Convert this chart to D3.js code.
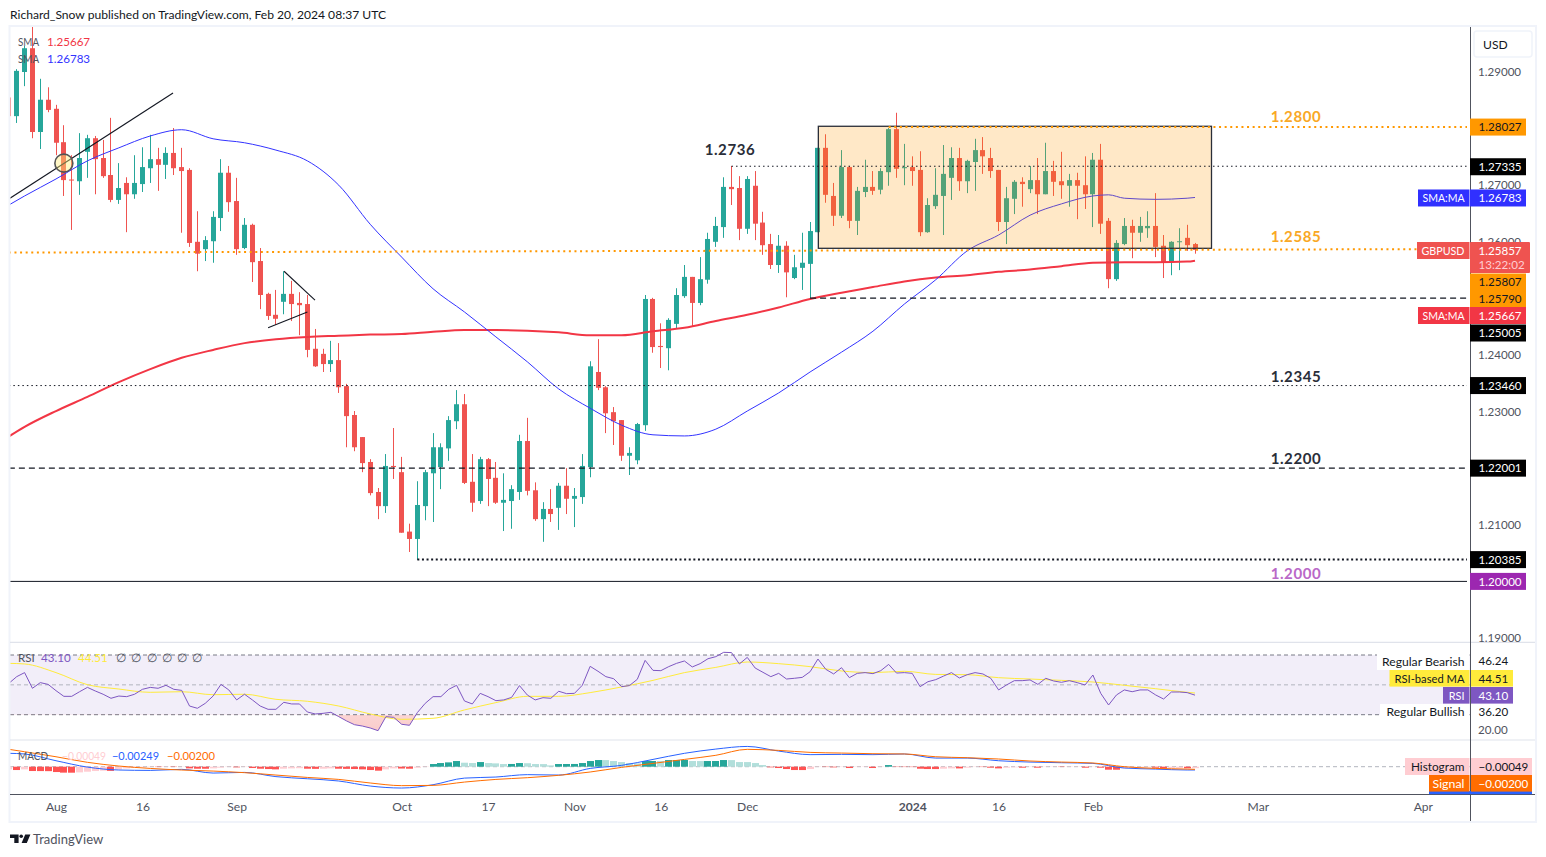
<!DOCTYPE html>
<html>
<head>
<meta charset="utf-8">
<title>GBPUSD</title>
<script src="https://cdn.jsdelivr.net/npm/d3@7"></script>
<style>
  body { margin: 0; background: #fff; }
  svg { display: block; }
  text { font-family: Lato, "Open Sans", sans-serif; font-size: 12.1px; }
</style>
</head>
<body>
<div class="visContainer"></div>
<script>
// First bar of the arrays below is number -6, bar 0 is 1 Aug 2023.
const firstBar = -6;

const opens = [
  1.2855,1.2822,1.2900,1.2942,1.2794,1.2851,1.2835,1.2776,1.2710,1.2707,
  1.2759,1.2783,1.2748,1.2718,1.2674,1.2704,1.2684,1.2702,1.2730,1.2746,
  1.2736,1.2757,1.2732,1.2727,1.2600,1.2587,1.2601,1.2642,1.2722,1.2672,
  1.2589,1.2630,1.2566,1.2508,1.2471,1.2494,1.2508,1.2492,1.2490,1.2411,
  1.2402,1.2384,1.2391,1.2345,1.2294,1.2255,1.2211,1.2158,1.2133,1.2204,
  1.2193,1.2088,1.2075,1.2133,1.2191,1.2202,1.2235,1.2283,1.2313,1.2176,
  1.2142,1.2216,1.2183,1.2139,1.2142,1.2158,1.2248,1.2161,1.2110,1.2128,
  1.2130,1.2169,1.2146,1.2149,1.2202,1.2370,1.2343,1.2299,1.2285,1.2222,
  1.2214,1.2276,1.2499,1.2416,1.2412,1.2455,1.2504,1.2538,1.2492,1.2533,
  1.2600,1.2626,1.2697,1.2695,1.2623,1.2699,1.2634,1.2596,1.2559,1.2593,
  1.2536,1.2554,1.2561,1.2617,1.2766,1.2681,1.2646,1.2732,1.2637,1.2688,
  1.2697,1.2692,1.2723,1.2799,1.2730,1.2732,1.2727,1.2617,1.2663,1.2681,
  1.2713,1.2748,1.2707,1.2741,1.2762,1.2748,1.2727,1.2635,1.2676,1.2706,
  1.2693,1.2709,1.2684,1.2725,1.2707,1.2699,1.2709,1.2700,1.2684,1.2745,
  1.2637,1.2534,1.2596,1.2628,1.2616,1.2624,1.2628,1.2593,1.2564,1.2600,
  1.2607,1.2596
];
const highs = [
  1.2858,1.2905,1.2946,1.2980,1.2888,1.2873,1.2842,1.2806,1.2753,1.2792,
  1.2789,1.2787,1.2780,1.2819,1.2739,1.2714,1.2753,1.2767,1.2789,1.2766,
  1.2767,1.2801,1.2766,1.2730,1.2654,1.2610,1.2654,1.2746,1.2734,1.2713,
  1.2642,1.2632,1.2589,1.2510,1.2515,1.2548,1.2531,1.2511,1.2506,1.2446,
  1.2411,1.2425,1.2421,1.2349,1.2301,1.2255,1.2216,1.2165,1.2225,1.2271,
  1.2220,1.2102,1.2177,1.2197,1.2262,1.2244,1.2292,1.2338,1.2331,1.2225,
  1.2220,1.2218,1.2211,1.2191,1.2170,1.2259,1.2289,1.2175,1.2140,1.2163,
  1.2174,1.2200,1.2165,1.2225,1.2389,1.2428,1.2345,1.2308,1.2285,1.2237,
  1.2280,1.2506,1.2501,1.2456,1.2465,1.2518,1.2559,1.2538,1.2573,1.2616,
  1.2644,1.2714,1.2734,1.2716,1.2716,1.2725,1.2653,1.2614,1.2612,1.2601,
  1.2577,1.2616,1.2635,1.2766,1.2790,1.2704,1.2762,1.2734,1.2697,1.2745,
  1.2725,1.2730,1.2801,1.2828,1.2773,1.2751,1.2760,1.2677,1.2730,1.2771,
  1.2767,1.2766,1.2745,1.2782,1.2785,1.2766,1.2727,1.2697,1.2709,1.2714,
  1.2734,1.2748,1.2775,1.2743,1.2759,1.2720,1.2722,1.2751,1.2757,1.2773,
  1.2642,1.2603,1.2642,1.2639,1.2644,1.2654,1.2686,1.2612,1.2601,1.2624,
  1.2630,1.2598
];
const lows = [
  1.2815,1.2810,1.2875,1.2783,1.2764,1.2829,1.2753,1.2681,1.2621,1.2683,
  1.2713,1.2684,1.2713,1.2670,1.2667,1.2617,1.2676,1.2688,1.2704,1.2690,
  1.2711,1.2718,1.2616,1.2591,1.2548,1.2566,1.2563,1.2619,1.2653,1.2577,
  1.2587,1.2529,1.2481,1.2462,1.2453,1.2472,1.2460,1.2435,1.2396,1.2379,
  1.2370,1.2370,1.2333,1.2237,1.2230,1.2193,1.2152,1.2110,1.2121,1.2181,
  1.2086,1.2052,1.2038,1.2108,1.2105,1.2163,1.2213,1.2269,1.2172,1.2123,
  1.2137,1.2133,1.2137,1.2089,1.2093,1.2144,1.2152,1.2107,1.2070,1.2105,
  1.2091,1.2119,1.2096,1.2137,1.2184,1.2338,1.2262,1.2241,1.2213,1.2188,
  1.2207,1.2266,1.2404,1.2377,1.2373,1.2446,1.2501,1.2451,1.2488,1.2526,
  1.2591,1.2607,1.2665,1.2603,1.2614,1.2603,1.2577,1.2552,1.2545,1.2502,
  1.2534,1.2515,1.2499,1.2617,1.2669,1.2628,1.2642,1.2624,1.2612,1.2679,
  1.2683,1.2684,1.2699,1.2713,1.2700,1.2699,1.2610,1.2616,1.2658,1.2612,
  1.2674,1.2690,1.2686,1.2690,1.2720,1.2713,1.2619,1.2596,1.2649,1.2662,
  1.2686,1.2649,1.2684,1.2681,1.2676,1.2662,1.2640,1.2658,1.2626,1.2614,
  1.2518,1.2531,1.2594,1.2571,1.2600,1.2607,1.2573,1.2536,1.2541,1.2550,
  1.2584,1.2579
];
const closes = [
  1.2822,1.2902,1.2942,1.2794,1.2851,1.2833,1.2775,1.2709,1.2709,1.2748,
  1.2783,1.2746,1.2716,1.2674,1.2695,1.2684,1.2704,1.2732,1.2746,1.2736,
  1.2757,1.2730,1.2725,1.2598,1.2579,1.2603,1.2644,1.2722,1.2670,1.2587,
  1.2630,1.2564,1.2506,1.2469,1.2464,1.2508,1.2490,1.2488,1.2409,1.2380,
  1.2384,1.2391,1.2343,1.2292,1.2237,1.2209,1.2156,1.2133,1.2204,1.2202,
  1.2086,1.2075,1.2135,1.2193,1.2237,1.2237,1.2285,1.2313,1.2174,1.2139,
  1.2216,1.2181,1.2139,1.2144,1.2163,1.2248,1.2160,1.2110,1.2128,1.2119,
  1.2169,1.2146,1.2151,1.2204,1.2380,1.2342,1.2297,1.2283,1.2222,1.2227,
  1.2278,1.2499,1.2414,1.2414,1.2462,1.2506,1.2538,1.2492,1.2534,1.2605,
  1.2628,1.2697,1.2693,1.2623,1.2711,1.2632,1.2594,1.2559,1.2593,1.2546,
  1.2555,1.2563,1.2619,1.2766,1.2683,1.2646,1.2732,1.2637,1.2690,1.2697,
  1.2690,1.2725,1.2799,1.2729,1.2732,1.2725,1.2617,1.2665,1.2683,1.2720,
  1.2748,1.2707,1.2743,1.2762,1.2751,1.2725,1.2635,1.2677,1.2706,1.2702,
  1.2709,1.2684,1.2725,1.2706,1.2700,1.2709,1.2699,1.2684,1.2745,1.2632,
  1.2534,1.2598,1.2628,1.2616,1.2628,1.2628,1.2591,1.2564,1.2600,1.2601,
  1.2594,1.25857
];

// Moving averages, read every few bars.
const smaSlowBars = [-6,-4,0,4,8,12,16,20,24,28,32,36,40,44,48,52,56,60,64,68,72,76,80,84,88,92,96,100,104,108,112,116,120,124,128,132,136,140,144,145];
const smaSlow = [
  1.2256,1.2273,1.2301,1.2326,1.2352,1.2375,1.2395,1.2409,1.2421,1.2428,
  1.2432,1.2434,1.2436,1.2437,1.2441,1.2444,1.2444,1.2443,1.2440,1.2435,
  1.2435,1.2442,1.2448,1.2460,1.2471,1.2484,1.2499,1.2510,1.2520,1.2530,
  1.2537,1.2541,1.2547,1.2551,1.2557,1.2563,1.2564,1.2564,1.2565,1.25667
];
const smaFastBars = [-6,-4,0,4,8,12,16,20,24,28,32,36,40,44,48,52,56,60,64,68,72,76,80,84,88,92,96,100,104,108,112,116,120,124,128,132,134,136,140,144,145];
const smaFast = [
  1.2665,1.2681,1.2711,1.2743,1.2766,1.2787,1.2798,1.2782,1.2775,1.2762,
  1.2743,1.2700,1.2631,1.2573,1.2517,1.2476,1.2432,1.2388,1.2340,1.2306,
  1.2276,1.2259,1.2257,1.2269,1.2301,1.2333,1.2370,1.2405,1.2442,1.2490,
  1.2533,1.2584,1.2612,1.2647,1.2667,1.2681,1.2683,1.2677,1.2675,1.2677,1.26783
];

const rsi = [
  51.0,55.5,58.2,47.7,51.5,50.3,46.1,42.3,42.3,45.4,
  48.3,45.9,43.7,41.0,42.5,42.1,43.7,47.0,48.3,47.7,
  49.7,47.0,46.3,35.8,34.3,37.6,42.5,50.3,46.6,39.9,
  43.7,39.9,35.8,33.6,33.6,38.3,37.2,37.2,31.8,30.5,
  30.9,31.6,28.7,25.8,23.3,22.4,21.1,19.3,28.7,28.2,
  23.6,22.9,31.4,37.6,42.1,42.1,47.0,49.7,39.2,37.2,
  44.3,42.1,39.4,39.9,41.6,49.5,43.2,39.9,41.4,41.0,
  45.7,44.1,44.3,49.7,62.4,59.1,55.5,54.1,48.8,49.5,
  53.7,66.4,59.7,59.5,62.2,64.4,66.0,62.0,64.2,67.5,
  68.9,71.8,71.6,64.0,68.4,61.3,58.4,55.5,57.7,53.9,
  54.4,55.0,58.8,67.3,60.4,57.3,61.5,54.8,57.7,58.2,
  57.5,59.5,63.7,57.9,58.2,57.7,48.8,52.1,53.5,55.9,
  58.2,54.6,56.8,58.2,57.3,54.4,46.6,49.9,52.8,52.8,
  53.3,50.3,54.4,52.6,51.7,52.8,51.5,49.9,56.6,44.3,
  36.5,43.2,46.6,45.4,46.6,46.6,43.2,40.5,45.2,45.2,
  44.8,43.1
];
const rsiMaBars = [-6,-4,0,4,8,12,16,20,24,28,32,36,40,44,48,52,56,60,64,68,72,76,80,84,88,92,96,100,104,108,112,116,120,124,128,132,136,140,144,145];
const rsiMa = [
  64.4,64.0,58.2,50.1,47.2,45.0,45.4,43.4,43.7,40.3,
  39.0,35.8,30.5,26.9,27.6,33.2,38.1,42.3,42.3,44.8,
  48.6,53.0,58.2,61.7,65.3,64.2,62.2,59.3,58.2,59.1,
  57.0,56.8,54.8,53.9,53.0,51.9,49.7,47.4,45.0,44.51
];

const macdBars = [-6,-4,0,4,8,12,16,20,24,28,32,36,40,44,48,52,56,60,64,68,72,76,80,84,88,92,96,100,104,108,112,116,120,124,128,132,136,140,144,145];
const macd = [
  0.0101,0.0096,0.0045,-0.0003,-0.0025,-0.0028,-0.0020,-0.0048,-0.0043,-0.0075,
  -0.0091,-0.0108,-0.0146,-0.0161,-0.0136,-0.0086,-0.0078,-0.0060,-0.0063,-0.0013,
  0.0010,0.0055,0.0101,0.0133,0.0153,0.0118,0.0091,0.0093,0.0091,0.0096,
  0.0065,0.0065,0.0045,0.0035,0.0030,0.0025,-0.0010,-0.0018,-0.0025,-0.00249
];
const signal = [
  0.0131,0.0113,0.0075,0.0033,0.0005,-0.0013,-0.0025,-0.0033,-0.0045,-0.0063,
  -0.0081,-0.0096,-0.0123,-0.0143,-0.0141,-0.0116,-0.0096,-0.0083,-0.0065,-0.0040,
  -0.0005,0.0025,0.0055,0.0086,0.0131,0.0123,0.0108,0.0103,0.0098,0.0096,
  0.0075,0.0068,0.0058,0.0043,0.0035,0.0028,0.0000,-0.0013,-0.0018,-0.0020
];
const histogram = [
  -0.00089,-0.00111,-0.00089,-0.00144,-0.00146,-0.00148,-0.00178,-0.00198,-0.00200,-0.00189,
  -0.00167,-0.00144,-0.00133,-0.00139,-0.00089,-0.00056,-0.00033,-0.00022,-0.00011,-0.00012,
  -0.00010,-0.00011,-0.00008,-0.00056,-0.00067,-0.00068,-0.00056,-0.00033,-0.00011,-0.00022,
  -0.00011,-0.00044,-0.00067,-0.00078,-0.00089,-0.00067,-0.00056,-0.00050,-0.00067,-0.00072,
  -0.00067,-0.00056,-0.00067,-0.00072,-0.00078,-0.00089,-0.00111,-0.00133,-0.00089,-0.00056,
  -0.00061,-0.00067,-0.00033,-0.00011,0.00089,0.00122,0.00144,0.00189,0.00133,0.00122,
  0.00155,0.00122,0.00111,0.00089,0.00091,0.00122,0.00116,0.00089,0.00087,0.00044,
  0.00089,0.00090,0.00091,0.00122,0.00189,0.00222,0.00220,0.00189,0.00155,0.00122,
  0.00111,0.00189,0.00190,0.00189,0.00222,0.00223,0.00224,0.00189,0.00188,0.00189,
  0.00190,0.00222,0.00220,0.00155,0.00154,0.00122,0.00055,-0.00022,-0.00044,-0.00078,
  -0.00111,-0.00112,-0.00078,-0.00011,-0.00012,-0.00022,-0.00011,-0.00044,-0.00011,-0.00010,
  -0.00044,-0.00011,0.00055,-0.00011,-0.00012,-0.00013,-0.00067,-0.00078,-0.00079,-0.00067,
  -0.00056,-0.00057,-0.00033,-0.00011,-0.00012,-0.00033,-0.00056,-0.00033,-0.00022,-0.00033,
  -0.00011,-0.00033,-0.00011,-0.00010,-0.00011,-0.00010,-0.00009,-0.00033,-0.00011,-0.00033,
  -0.00100,-0.00101,-0.00056,-0.00044,-0.00033,-0.00022,-0.00033,-0.00056,-0.00052,-0.00050,
  -0.00051,-0.00049
];

// Time axis labels.
const timeBars = [0,11,23,44,55,66,77,88,109,120,132,153,174];
const timeLabels = ['Aug','16','Sep','Oct','17','Nov','16','Dec','2024','16','Feb','Mar','Apr'];

// The other round prices are hidden behind the value tags.
const priceTicks = [1.19,1.21,1.23,1.24,1.26,1.27,1.29];

// Horizontal levels drawn on the chart.
const levelPrices = [1.28027,1.27335,1.25005,1.2346,1.22001,1.20385,1.2];
const levelFromBars = [106,86,96,-6,-6,46,-6];

// Chart geometry.
const width = 1546;
const height = 857;
const paneLeft = 10;
const paneRight = 1470;
const numberSize = '11.6px';

const svg = d3.select('.visContainer')
              .append('svg')
              .attr('width', width)
              .attr('height', height);

// Scales. Bars are indexed by trading day, the scale runs past the last bar.
const xScale = d3.scaleLinear().domain([0, 174]).range([56, 1422.8]);
const yScale = d3.scaleLinear().domain([1.19, 1.29]).range([638, 72]);
const rsiScale = d3.scaleLinear().domain([30, 70]).range([714.7, 655]);
const macdScale = d3.scaleLinear().domain([-0.02, 0.02]).range([793.2, 740.2]);
const histScale = d3.scaleLinear().domain([-0.002, 0.002]).range([772.7, 760.7]);

const bars = opens.map((o, i) => ({
    bar: firstBar + i,
    open: o,
    high: highs[i],
    low: lows[i],
    close: closes[i],
    rsi: rsi[i],
    hist: histogram[i]
}));

const defs = svg.append('defs');
defs.append('clipPath').attr('id', 'priceClip').append('rect')
    .attr('x', paneLeft).attr('y', 27).attr('width', paneRight - paneLeft).attr('height', 615);
defs.append('clipPath').attr('id', 'indClip').append('rect')
    .attr('x', paneLeft).attr('y', 643).attr('width', paneRight - paneLeft).attr('height', 151);
defs.append('clipPath').attr('id', 'oversoldClip').append('rect')
    .attr('x', paneLeft).attr('y', rsiScale(30)).attr('width', paneRight - paneLeft).attr('height', 26);

const oversoldFill = defs.append('linearGradient').attr('id', 'oversoldFill')
    .attr('x1', 0).attr('x2', 0).attr('y1', 0).attr('y2', 1);
oversoldFill.append('stop').attr('offset', '0%').attr('stop-color', '#ef5350').attr('stop-opacity', 0.02);
oversoldFill.append('stop').attr('offset', '100%').attr('stop-color', '#ef5350').attr('stop-opacity', 0.3);

// Published-by line.
svg.append('text')
   .attr('x', 10)
   .attr('y', 19)
   .attr('fill', '#131722')
   .text('Richard_Snow published on TradingView.com, Feb 20, 2024 08:37 UTC');

// Candles.
const pricePane = svg.append('g').attr('clip-path', 'url(#priceClip)');
const candleColor = (d) => d.close >= d.open ? '#26a69a' : '#ef5350';
const barX = (b) => Math.floor(xScale(b));

pricePane.selectAll('.wick')
   .data(bars)
   .enter()
   .append('rect')
   .attr('class', 'wick')
   .attr('x', (d) => barX(d.bar))
   .attr('y', (d) => yScale(d.high))
   .attr('width', 1)
   .attr('height', (d) => yScale(d.low) - yScale(d.high))
   .attr('fill', candleColor);

pricePane.selectAll('.body')
   .data(bars)
   .enter()
   .append('rect')
   .attr('class', 'body')
   .attr('x', (d) => barX(d.bar) - 2)
   .attr('y', (d) => yScale(Math.max(d.open, d.close)))
   .attr('width', 5)
   .attr('height', (d) => Math.max(1, Math.abs(yScale(d.open) - yScale(d.close))))
   .attr('fill', candleColor);

// Moving averages.
const smaLine = d3.line()
                  .x((d) => xScale(d[0]))
                  .y((d) => yScale(d[1]))
                  .curve(d3.curveMonotoneX);

pricePane.append('path')
   .attr('d', smaLine(d3.zip(smaSlowBars, smaSlow)))
   .attr('fill', 'none')
   .attr('stroke', '#f23645')
   .attr('stroke-width', 2);

pricePane.append('path')
   .attr('d', smaLine(d3.zip(smaFastBars, smaFast)))
   .attr('fill', 'none')
   .attr('stroke', '#3333ff')
   .attr('stroke-width', 1);

// Range box, sits over the candles so they show through.
pricePane.append('rect')
   .attr('x', xScale(97.05))
   .attr('y', yScale(1.28041))
   .attr('width', xScale(147.1) - xScale(97.05))
   .attr('height', yScale(1.25885) - yScale(1.28041))
   .attr('fill', 'rgba(255,152,0,0.22)')
   .attr('stroke', '#2a2e39')
   .attr('stroke-width', 1.3);

// Levels.
const levelStyles = [
    { color: '#ff9800', w: 2, dash: '2 3.6' },
    { color: '#131722', w: 1, dash: '1.5 3' },
    { color: '#131722', w: 1.3, dash: '6 4' },
    { color: '#131722', w: 1, dash: '1.5 3' },
    { color: '#131722', w: 1.3, dash: '6 4' },
    { color: '#131722', w: 2, dash: '2 2.6' },
    { color: '#131722', w: 1, dash: null }
];
levelPrices.forEach((p, i) => {
    pricePane.append('line')
       .attr('x1', xScale(levelFromBars[i]))
       .attr('x2', paneRight - 3)
       .attr('y1', yScale(p))
       .attr('y2', yScale(p))
       .attr('stroke', levelStyles[i].color)
       .attr('stroke-width', levelStyles[i].w)
       .attr('stroke-dasharray', levelStyles[i].dash);
});

// Slightly rising 1.2585 line.
pricePane.append('line')
   .attr('x1', xScale(-6))
   .attr('x2', xScale(173.3))
   .attr('y1', yScale(1.2581))
   .attr('y2', yScale(1.2587))
   .attr('stroke', '#ff9800')
   .attr('stroke-width', 2)
   .attr('stroke-dasharray', '2 3.6');

// Hand drawn trend lines and the circle.
const trendLines = [
    [-5.86, 1.2677, 14.9, 1.2863],
    [29.03, 1.2548, 32.97, 1.2497],
    [27, 1.2448, 32, 1.2476]
];
trendLines.forEach((t) => {
    pricePane.append('line')
       .attr('x1', xScale(t[0]))
       .attr('y1', yScale(t[1]))
       .attr('x2', xScale(t[2]))
       .attr('y2', yScale(t[3]))
       .attr('stroke', '#131722')
       .attr('stroke-width', 1.1);
});
pricePane.append('circle')
   .attr('cx', xScale(1))
   .attr('cy', yScale(1.2739))
   .attr('r', 9)
   .attr('fill', 'rgba(255,235,120,0.42)')
   .attr('stroke', '#555')
   .attr('stroke-width', 1.6);

// Level captions.
const captions = [
    ['1.2800', 1296, 122, '#f9a825'],
    ['1.2585', 1296, 242, '#f9a825'],
    ['1.2345', 1296, 382, '#2a2e39'],
    ['1.2200', 1296, 464, '#2a2e39'],
    ['1.2000', 1296, 579, '#ba68c8'],
    ['1.2736', 730, 155, '#2a2e39']
];
captions.forEach((c) => {
    svg.append('text')
       .attr('x', c[1])
       .attr('y', c[2])
       .attr('text-anchor', 'middle')
       .attr('fill', c[3])
       .attr('font-weight', 700)
       .style('font-size', '15px')
       .style('letter-spacing', '0.6px')
       .text(c[0]);
});

// RSI pane.
const indPane = svg.append('g').attr('clip-path', 'url(#indClip)');
indPane.append('rect')
   .attr('x', paneLeft)
   .attr('y', rsiScale(70))
   .attr('width', paneRight - paneLeft)
   .attr('height', rsiScale(30) - rsiScale(70))
   .attr('fill', 'rgba(126,87,194,0.1)');

[[70, '#787b86'], [50, '#b2b5be'], [30, '#787b86']].forEach((l) => {
    indPane.append('line')
       .attr('x1', paneLeft)
       .attr('x2', paneRight)
       .attr('y1', rsiScale(l[0]))
       .attr('y2', rsiScale(l[0]))
       .attr('stroke', l[1])
       .attr('stroke-dasharray', '4 3');
});

const rsiArea = d3.area()
                  .x((d) => xScale(d.bar))
                  .y0(rsiScale(30))
                  .y1((d) => rsiScale(d.rsi));
indPane.append('g')
   .attr('clip-path', 'url(#oversoldClip)')
   .append('path')
   .attr('d', rsiArea(bars))
   .attr('fill', 'url(#oversoldFill)');

const rsiLine = d3.line().x((d) => xScale(d.bar)).y((d) => rsiScale(d.rsi));
const rsiMaLine = d3.line().x((d) => xScale(d[0])).y((d) => rsiScale(d[1])).curve(d3.curveMonotoneX);

indPane.append('path')
   .attr('d', rsiMaLine(d3.zip(rsiMaBars, rsiMa)))
   .attr('fill', 'none')
   .attr('stroke', '#ffeb3b')
   .attr('stroke-width', 1);
indPane.append('path')
   .attr('d', rsiLine(bars))
   .attr('fill', 'none')
   .attr('stroke', '#7e57c2')
   .attr('stroke-width', 1);

// MACD pane.
indPane.append('line')
   .attr('x1', paneLeft)
   .attr('x2', paneRight)
   .attr('y1', macdScale(0))
   .attr('y2', macdScale(0))
   .attr('stroke', '#b2b5be')
   .attr('stroke-dasharray', '4 3');

const histColor = (d, i) => {
    const prev = i > 0 ? bars[i - 1].hist : d.hist;
    if (d.hist >= 0) {
        return d.hist >= prev ? '#26a69a' : '#b2dfdb';
    }
    return d.hist >= prev ? '#ffcdd2' : '#ff5252';
};

indPane.selectAll('.hist')
   .data(bars)
   .enter()
   .append('rect')
   .attr('class', 'hist')
   .attr('x', (d) => barX(d.bar) - 3)
   .attr('y', (d) => Math.min(histScale(d.hist), histScale(0)))
   .attr('width', 7)
   .attr('height', (d) => Math.abs(histScale(d.hist) - histScale(0)))
   .attr('fill', histColor);

const macdLine = d3.line().x((d) => xScale(d[0])).y((d) => macdScale(d[1])).curve(d3.curveMonotoneX);
indPane.append('path')
   .attr('d', macdLine(d3.zip(macdBars, macd)))
   .attr('fill', 'none')
   .attr('stroke', '#2962ff')
   .attr('stroke-width', 1);
indPane.append('path')
   .attr('d', macdLine(d3.zip(macdBars, signal)))
   .attr('fill', 'none')
   .attr('stroke', '#ff6d00')
   .attr('stroke-width', 1);

// Legends in the pane corners.
const legend = (y, items) => {
    items.forEach((it) => {
        const t = svg.append('text')
           .attr('x', it[0])
           .attr('y', y)
           .attr('fill', it[2])
           .style('font-size', numberSize)
           .text(it[1]);
        if (it[3]) {
            t.attr('textLength', it[3]).attr('lengthAdjust', 'spacingAndGlyphs');
        }
    });
};
legend(45.5, [[18, 'SMA', '#50535e', 21], [47, '1.25667', '#f23645']]);
legend(63, [[18, 'SMA', '#50535e', 21], [47, '1.26783', '#3333ff']]);
legend(662, [[18, 'RSI', '#50535e'], [41, '43.10', '#7e57c2'], [78, '44.51', '#ffeb3b'],
             [116, '∅', '#50535e'], [131, '∅', '#50535e'], [147, '∅', '#50535e'],
             [162, '∅', '#50535e'], [177, '∅', '#50535e'], [192, '∅', '#50535e']]);
legend(760, [[18, 'MACD', '#50535e', 30], [62, '−0.00049', '#ffcdd2', 44], [112, '−0.00249', '#2962ff', 47], [167, '−0.00200', '#ff6d00', 48]]);

// Frame and separators.
svg.append('rect')
   .attr('x', 9.5)
   .attr('y', 26)
   .attr('width', 1526.5)
   .attr('height', 796)
   .attr('fill', 'none')
   .attr('stroke', '#f0f3fa')
   .attr('stroke-width', 2);
[642.3, 740].forEach((y) => {
    svg.append('line')
       .attr('x1', 10).attr('x2', 1535)
       .attr('y1', y).attr('y2', y)
       .attr('stroke', '#e0e3eb')
       .attr('stroke-width', 1.2);
});
svg.append('line')
   .attr('x1', 10).attr('x2', 1535)
   .attr('y1', 794.5).attr('y2', 794.5)
   .attr('stroke', '#50535e');
svg.append('line')
   .attr('x1', 1470.5).attr('x2', 1470.5)
   .attr('y1', 27).attr('y2', 821)
   .attr('stroke', '#50535e');

// Time axis.
const timeAxis = d3.axisBottom(xScale)
                   .tickValues(timeBars)
                   .tickSize(0)
                   .tickPadding(7)
                   .tickFormat((d, i) => timeLabels[i]);
const timeG = svg.append('g')
   .attr('transform', 'translate(0,795)')
   .call(timeAxis);
timeG.select('.domain').remove();
timeG.selectAll('text')
   .attr('fill', '#50535e')
   .style('font-size', '12.1px')
   .style('font-family', 'Lato')
   .attr('font-weight', (d) => d === 109 ? 700 : 400);

// Price axis.
const priceAxis = d3.axisRight(yScale)
                    .tickValues(priceTicks)
                    .tickSize(0)
                    .tickPadding(7)
                    .tickFormat(d3.format('.5f'));
const priceG = svg.append('g')
   .attr('transform', 'translate(1471,0)')
   .call(priceAxis);
priceG.select('.domain').remove();
priceG.selectAll('text')
   .attr('fill', '#50535e')
   .style('font-size', numberSize)
   .style('font-family', 'Lato');

const rsiG = svg.append('g')
   .attr('transform', 'translate(1471,0)')
   .call(d3.axisRight(rsiScale).tickValues([20]).tickSize(0).tickPadding(7).tickFormat(d3.format('.2f')));
rsiG.select('.domain').remove();
rsiG.selectAll('text')
   .attr('fill', '#50535e')
   .style('font-size', numberSize)
   .style('font-family', 'Lato');

// USD unit box.
svg.append('rect')
   .attr('x', 1474).attr('y', 31).attr('width', 58).attr('height', 26).attr('rx', 3)
   .attr('fill', '#fff').attr('stroke', '#f0f3fa').attr('stroke-width', 1.5);
svg.append('text').attr('x', 1483).attr('y', 49).attr('fill', '#131722').text('USD');

// Value tags on the axis. Some sit away from their value so they do not overlap.
const valueTag = (x, w, y, h, bg, fg, label) => {
    svg.append('rect')
       .attr('x', x).attr('y', y).attr('width', w).attr('height', h)
       .attr('fill', bg);
    svg.append('text')
       .attr('x', 1478.5)
       .attr('y', y + h / 2 + 4.2)
       .attr('fill', fg)
       .style('font-size', numberSize)
       .text(label);
};
// Name tags end at the axis, the text is fitted to the width it has in the picture.
const nameTag = (y, h, left, bg, fg, label, textWidth) => {
    svg.append('rect')
       .attr('x', left).attr('y', y).attr('width', 1469.5 - left).attr('height', h)
       .attr('fill', bg);
    svg.append('text')
       .attr('x', 1464.5 - textWidth)
       .attr('y', y + h / 2 + 4.2)
       .attr('fill', fg)
       .attr('textLength', textWidth)
       .attr('lengthAdjust', 'spacingAndGlyphs')
       .text(label);
};
const priceTag = (cy, bg, fg, label) => valueTag(1470, 56, cy - 8.5, 17, bg, fg, label);

priceTag(yScale(1.28027), '#ff9800', '#131722', '1.28027');
priceTag(yScale(1.27335) + 0.5, '#000', '#fff', '1.27335');
priceTag(yScale(1.26783) + 0.5, '#3030ff', '#fff', '1.26783');
nameTag(yScale(1.26783) - 8, 17, 1418, '#3030ff', '#fff', 'SMA:MA', 42);
priceTag(282, '#ff9800', '#131722', '1.25807');
priceTag(298.5, '#ff9800', '#131722', '1.25790');
priceTag(315.5, '#f23645', '#fff', '1.25667');
nameTag(307, 17, 1418, '#f23645', '#fff', 'SMA:MA', 42);
priceTag(333, '#000', '#fff', '1.25005');
priceTag(yScale(1.2346), '#000', '#fff', '1.23460');
priceTag(yScale(1.22001), '#000', '#fff', '1.22001');
priceTag(yScale(1.20385), '#000', '#fff', '1.20385');
priceTag(yScale(1.2), '#9c27b0', '#fff', '1.20000');

// Current price with countdown.
svg.append('rect').attr('x', 1470).attr('y', 242).attr('width', 60).attr('height', 31).attr('rx', 1).attr('fill', '#ef5350');
svg.append('text').attr('x', 1478.5).attr('y', 255).attr('fill', '#fff').style('font-size', numberSize).text('1.25857');
svg.append('text').attr('x', 1478.5).attr('y', 269).attr('fill', '#ffcdd2').style('font-size', numberSize).text('13:22:02');
nameTag(242, 17, 1417, '#ef5350', '#fff', 'GBPUSD', 43);

// Indicator tags.
svg.append('rect').attr('x', 1471).attr('y', 655).attr('width', 42).attr('height', 65).attr('fill', '#fff');
nameTag(654, 16, 1377, '#fff', '#131722', 'Regular Bearish', 82.5);
nameTag(704, 16, 1380, '#fff', '#131722', 'Regular Bullish', 78);
valueTag(1471, 42, 653, 16, '#fff', '#131722', '46.24');
valueTag(1471, 42, 704, 16, '#fff', '#131722', '36.20');
nameTag(670, 16.6, 1389.5, '#ffeb3b', '#131722', 'RSI-based MA', 70);
valueTag(1471, 42, 670, 16.6, '#ffeb3b', '#131722', '44.51');
nameTag(687, 16.6, 1443, '#7e57c2', '#fff', 'RSI', 15.7);
valueTag(1471, 42, 687, 16.6, '#7e57c2', '#fff', '43.10');
svg.append('rect').attr('x', 1429).attr('y', 791).attr('width', 103).attr('height', 3.2).attr('fill', '#2962ff');
nameTag(758, 17, 1405, '#ffcdd2', '#131722', 'Histogram', 53.6);
valueTag(1471, 61, 758, 17, '#ffcdd2', '#131722', '−0.00049');
nameTag(775, 16.6, 1429, '#ff6d00', '#fff', 'Signal', 32);
valueTag(1471, 61, 775, 16.6, '#ff6d00', '#fff', '−0.00200');

// TradingView mark.
svg.append('path')
   .attr('d', 'M10 834.5h8.6v8.5h-4.3v-5H10z M25.2 834.5h5.2l-3.6 8.5h-5.2z')
   .attr('fill', '#131722');
svg.append('circle').attr('cx', 21.2).attr('cy', 836.3).attr('r', 1.8).attr('fill', '#131722');
svg.append('text')
   .attr('x', 33)
   .attr('y', 844)
   .attr('fill', '#50535e')
   .style('font-size', '13px')
   .text('TradingView');
</script>
</body>
</html>
